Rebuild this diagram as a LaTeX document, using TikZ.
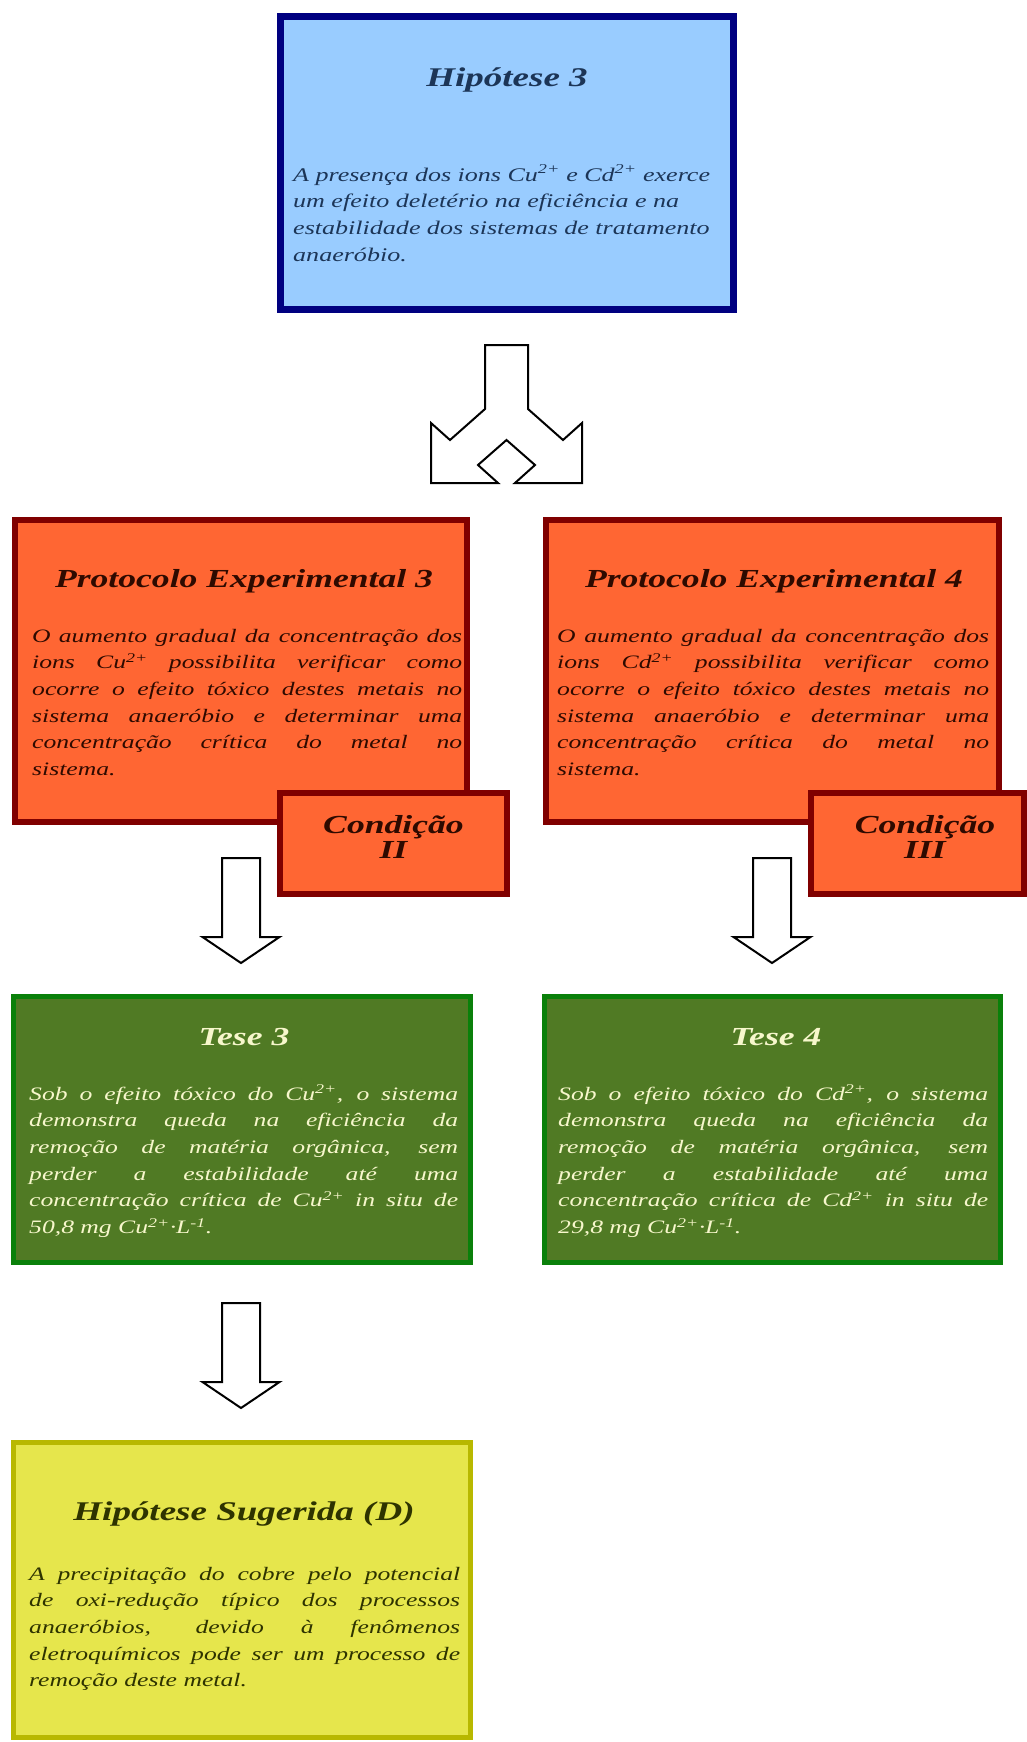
\documentclass[tikz,border=0pt]{standalone}
\usepackage{fontspec}
\setmainfont{Liberation Serif}
\newfontfamily\headfont{Liberation Serif}[FakeStretch=1.37]
\newfontfamily\bodyfont{Liberation Serif}[FakeStretch=1.35]
\hyphenpenalty=10000
\exhyphenpenalty=10000

\definecolor{hypfill}{HTML}{99CCFF}
\definecolor{hypline}{HTML}{000080}
\definecolor{hyptext}{HTML}{1C3557}
\definecolor{protfill}{HTML}{FF6633}
\definecolor{protline}{HTML}{800000}
\definecolor{prottext}{HTML}{2E0A00}
\definecolor{tesefill}{HTML}{507A24}
\definecolor{teseline}{HTML}{0A800A}
\definecolor{tesetext}{HTML}{F7F7CC}
\definecolor{sugfill}{HTML}{E6E64C}
\definecolor{sugline}{HTML}{B8B800}
\definecolor{sugtext}{HTML}{2E3300}

\begin{document}
\begin{tikzpicture}[x=1pt,y=-1pt,
  box/.style={rectangle,draw,inner sep=0pt,outer sep=0pt},
  hypbox/.style={box,fill=hypfill,draw=hypline,line width=7pt},
  protbox/.style={box,fill=protfill,draw=protline,line width=6pt},
  tesebox/.style={box,fill=tesefill,draw=teseline,line width=5pt},
  sugbox/.style={box,fill=sugfill,draw=sugline,line width=5pt},
  head/.style={inner sep=0pt,anchor=base,
    font=\headfont\bfseries\itshape\fontsize{26}{25}\selectfont},
  body/.style={inner sep=0pt,anchor=base west,text width=#1,align=justify,
    font=\bodyfont\itshape\fontsize{19}{26.7}\selectfont},
  blockarrow/.style={draw=black,line width=2pt,fill=white,line join=miter},
  pics/downarrow/.style={code={
    \draw[blockarrow] (-19,0) -- (19,0) -- (19,79) -- (38.5,79) -- (0,105)
      -- (-38.5,79) -- (-19,79) -- cycle;}}
]
% page
\fill[white] (0,0) rectangle (1027,1742);

% ---- Hipótese 3 ----
\node[hypbox,minimum width=453pt,minimum height=293pt] (hyp) at (507,163) {};
\node[head,text=hyptext,font=\headfont\bfseries\itshape\fontsize{27}{30}\selectfont]
  (hyptitle) at (507,87) {Hipótese 3};
\node[body=424pt,align=left,text=hyptext,
  font=\bodyfont\itshape\fontsize{19.3}{26.7}\selectfont]
  (hyptext) at (293,181)
  {A presença dos ions Cu\textsuperscript{2+} e Cd\textsuperscript{2+}\ exerce\\
   um efeito deletério na eficiência e na\\
   estabilidade dos sistemas de tratamento\\
   anaeróbio.};

% ---- branching arrow ----
\draw[blockarrow] (485,345) -- (528,345) -- (528,409) -- (563,440) -- (582,423)
  -- (582,483) -- (515,483) -- (535,465) -- (506.5,440) -- (478,465) -- (498,483)
  -- (431,483) -- (431,423) -- (450,440) -- (485,409) -- cycle;

% ---- Protocolo Experimental 3 ----
\node[protbox,minimum width=452pt,minimum height=302pt] (prot3) at (241,671) {};
\node[head,text=prottext] (prot3title) at (244,587) {Protocolo Experimental 3};
\node[body=430pt,text=prottext] (prot3text) at (32,642)
  {O aumento gradual da concentração dos\linebreak
   ions Cu\textsuperscript{2+} possibilita verificar como\linebreak
   ocorre o efeito tóxico destes metais no\linebreak
   sistema anaeróbio e determinar uma\linebreak
   concentração crítica do metal no\linebreak
   sistema.};
\node[protbox,minimum width=227pt,minimum height=101pt] (cond2) at (393.5,843.5) {};
\node[head,text=prottext,text width=220pt,align=center] (cond2text) at (393.5,833)
  {Condição\\II};

% ---- Protocolo Experimental 4 ----
\node[protbox,minimum width=453pt,minimum height=302pt] (prot4) at (772.5,671) {};
\node[head,text=prottext] (prot4title) at (774,587) {Protocolo Experimental 4};
\node[body=432pt,text=prottext] (prot4text) at (557,642)
  {O aumento gradual da concentração dos\linebreak
   ions Cd\textsuperscript{2+} possibilita verificar como\linebreak
   ocorre o efeito tóxico destes metais no\linebreak
   sistema anaeróbio e determinar uma\linebreak
   concentração crítica do metal no\linebreak
   sistema.};
\node[protbox,minimum width=213pt,minimum height=101pt] (cond3) at (917.5,843.5) {};
\node[head,text=prottext,text width=200pt,align=center] (cond3text) at (925,833)
  {Condição\\III};

% ---- arrows to the theses ----
\pic at (241,858) {downarrow};
\pic at (772,858) {downarrow};

% ---- Tese 3 ----
\node[tesebox,minimum width=457pt,minimum height=266pt] (tese3) at (242,1129.5) {};
\node[head,text=tesetext] (tese3title) at (244,1045) {Tese 3};
\node[body=429pt,text=tesetext] (tese3text) at (29,1100)
  {Sob o efeito tóxico do Cu\textsuperscript{2+}, o sistema\linebreak
   demonstra queda na eficiência da\linebreak
   remoção de matéria orgânica, sem\linebreak
   perder a estabilidade até uma\linebreak
   concentração crítica de Cu\textsuperscript{2+} in situ de\linebreak
   50,8 mg Cu\textsuperscript{2+}·L\textsuperscript{-1}.};

% ---- Tese 4 ----
\node[tesebox,minimum width=456pt,minimum height=266pt] (tese4) at (772.5,1129.5) {};
\node[head,text=tesetext] (tese4title) at (776,1045) {Tese 4};
\node[body=430pt,text=tesetext] (tese4text) at (558,1100)
  {Sob o efeito tóxico do Cd\textsuperscript{2+}, o sistema\linebreak
   demonstra queda na eficiência da\linebreak
   remoção de matéria orgânica, sem\linebreak
   perder a estabilidade até uma\linebreak
   concentração crítica de Cd\textsuperscript{2+} in situ de\linebreak
   29,8 mg Cu\textsuperscript{2+}·L\textsuperscript{-1}.};

% ---- arrow to the suggested hypothesis ----
\pic at (241,1303) {downarrow};

% ---- Hipótese Sugerida (D) ----
\node[sugbox,minimum width=457pt,minimum height=295pt] (sug) at (242,1590) {};
\node[head,text=sugtext,font=\headfont\bfseries\itshape\fontsize{27}{30}\selectfont]
  (sugtitle) at (244,1520) {Hipótese Sugerida (D)};
\node[body=431pt,text=sugtext] (sugtext) at (29,1580)
  {A precipitação do cobre pelo potencial\linebreak
   de oxi-redução típico dos processos\linebreak
   anaeróbios, devido à fenômenos\linebreak
   eletroquímicos pode ser um processo de\linebreak
   remoção deste metal.};
\end{tikzpicture}
\end{document}
